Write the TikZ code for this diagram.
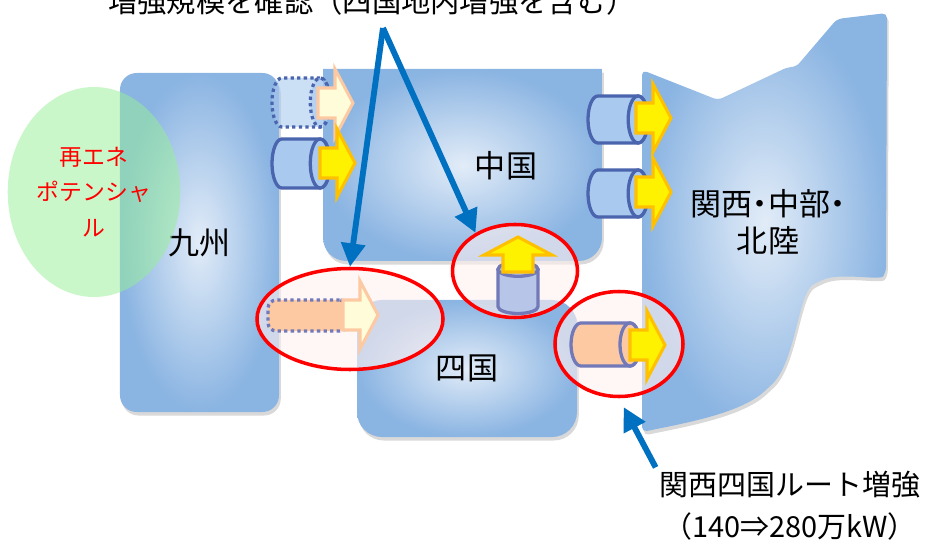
\documentclass[tikz,border=0pt]{standalone}
\usepackage{fontspec}
\setmainfont{Noto Sans CJK JP}
\usetikzlibrary{arrows.meta}
\usetikzlibrary{calc}
\usetikzlibrary{shapes.geometric}
\usetikzlibrary{shadows}

\definecolor{areaedge}{HTML}{8AB4E2}
\definecolor{areacore}{HTML}{E2ECF8}
\definecolor{pipeedge}{HTML}{4A65AD}
\definecolor{pipefill}{HTML}{A9C9EE}
\definecolor{newedge}{HTML}{7179B8}
\definecolor{newfill}{HTML}{FCC9A2}
\definecolor{upfill}{HTML}{B7C5E8}
\definecolor{flowedge}{HTML}{FFC000}
\definecolor{callout}{HTML}{0070C0}
\definecolor{renewable}{HTML}{96F096}

\tikzset{
  area/.style={shading=radial, inner color=areacore, outer color=areaedge,
    drop shadow={shadow xshift=1.5pt, shadow yshift=-3pt, opacity=0.3}},
  ring/.style={ellipse, draw=red, line width=3pt, fill=red!6, fill opacity=0.6},
  dots/.style={dash pattern=on 2.8pt off 2.8pt},
  link/.style={draw=pipeedge, fill=pipefill, line width=2.8pt},
  power/.style={fill=yellow, draw=flowedge, line width=2.6pt},
  planned/.style={fill=yellow!15, draw=newfill, line width=2.6pt},
  callarrow/.style={draw=callout, line width=5pt, -{Triangle[length=0.7cm,width=0.7cm]}},
  pipe/.pic={
    \path[pic actions] (1-#1,-1) -- (-1+#1,-1) arc[start angle=-90, end angle=-270, x radius=#1, y radius=1]
      -- (1-#1,1) arc[start angle=90, end angle=-90, x radius=#1, y radius=1] -- cycle;
    \path[pic actions] (1-#1,0) ellipse[x radius=#1, y radius=1];},
  flow/.pic={\path[pic actions, line join=miter]
    (0,-15) -- (17,-15) -- (17,-34) -- (35,0) -- (17,34) -- (17,15) -- (0,15) -- cycle;}
}

\begin{document}
\begin{tikzpicture}[x=0.03cm, y=-0.03cm, font=\fontsize{26.5}{31.5}\selectfont]
  \useasboundingbox (0,0) rectangle (925,540);

  % areas
  \node[area, rounded corners=0.5cm, minimum width=4.77cm, minimum height=10.17cm] (kyushu) at (199.5,242.5) {九州};
  \path[area] (602,69) -- (323,69) [rounded corners=0.7cm] -- (323,261) -- (602,261) [sharp corners] -- cycle;
  \node (chugoku) at (506,166) {中国};
  \node[area, rounded corners=0.75cm, minimum width=6.6cm, minimum height=4.11cm] (shikoku) at (467,368.5) {四国};
  \path[area, rounded corners=0.15cm] (642,70) -- (718,100) -- (788,67) -- (796,67) -- (837,19) -- (887,13) -- (886,272)
    .. controls (880,281) and (840,272) .. (818,282)
    .. controls (798,292) and (796,362) .. (768,388)
    .. controls (740,414) and (680,424) .. (642,432) -- cycle;
  \node[align=center, font=\fontsize{26.5}{31.5}\selectfont\addfontfeature{RawFeature=+palt}] (kansai) at (768,222) {関西・中部・\\北陸};

  \node[ellipse, fill=renewable, fill opacity=0.5, text opacity=1, text=red, align=center,
    minimum width=4.8cm, minimum height=6.3cm, font=\fontsize{19.5}{30}\selectfont] (re) at (94,192) {再エネ\\ポテンシャ\\ル};

  % existing links
  \pic[link, dots, fill opacity=0.6, xscale=29, yscale=24.5] (p1) at (301,102.5) {pipe=0.34};
  \pic[planned] (a1) at (318,103) {flow};
  \pic[link, xscale=29, yscale=24.5] (p2) at (301,163.5) {pipe=0.34};
  \pic[power] (a2) at (320,163) {flow};
  \pic[link, xscale=30, yscale=23.5] (p3) at (618,119.5) {pipe=0.33};
  \pic[power] (a3) at (636,118) {flow};
  \pic[link, xscale=30, yscale=23.5] (p4) at (618,193.5) {pipe=0.33};
  \pic[power] (a4) at (636,192) {flow};

  % links under study
  \node[ring, minimum width=5.58cm, minimum height=3.03cm] (KS) at (350,319) {};
  \node[ring, minimum width=3.75cm, minimum height=2.79cm] (CS) at (515,271) {};
  \node[ring, minimum width=3.84cm, minimum height=3.15cm] (SK) at (619,344) {};

  \node[draw=newedge, dots, line width=2.8pt, fill=newfill, rounded corners=0.25cm,
    minimum width=2.4cm, minimum height=0.93cm] (p5) at (308,315.5) {};
  \pic[planned] (a5) at (343,315) {flow};
  \pic[link, draw=newedge, fill=upfill, rotate=90, xscale=25.5, yscale=20] (p6) at (518,288) {pipe=0.27};
  \pic[power, rotate=90] (a6) at (518,272) {flow};
  \pic[link, draw=newedge, fill=newfill, xscale=34.5, yscale=21.5] (p7) at (605.5,344.5) {pipe=0.29};
  \pic[power] (a7) at (630,345) {flow};

  % notes
  \node[font=\fontsize{25}{30}\selectfont] (task) at (372,1) {増強規模を確認（四国地内増強を含む）};
  \coordinate (apex) at (383,28);
  \node[align=center, font=\fontsize{24.7}{35.7}\selectfont] (note) at (790,506) {関西四国ルート増強\\（140⇒280万kW）};

  \draw[callarrow] (apex) -- (KS.north);
  \draw[callarrow] (apex) -- (CS.136);
  \draw[callarrow, shorten >=0.3cm] (note.north west) -- (SK.south);
\end{tikzpicture}
\end{document}
